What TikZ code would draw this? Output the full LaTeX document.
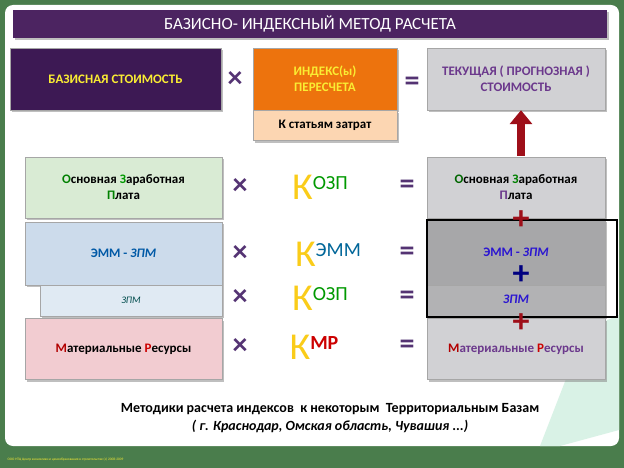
\documentclass[tikz,border=0pt]{standalone}
\usepackage{fontspec}
\setmainfont{Carlito}
\usetikzlibrary{positioning,shadows,arrows.meta}
\definecolor{bggreen}{rgb}{0.29,0.49,0.30}
\definecolor{darkpurple}{rgb}{0.24,0.10,0.33}
\definecolor{titlepurple}{rgb}{0.30,0.14,0.38}
\definecolor{orangebox}{rgb}{0.93,0.45,0.05}
\definecolor{lightorange}{rgb}{0.99,0.84,0.70}
\definecolor{yellowtxt}{rgb}{0.98,0.93,0.20}
\definecolor{violettxt}{rgb}{0.42,0.22,0.55}
\definecolor{signpurple}{rgb}{0.33,0.20,0.45}
\definecolor{greenbox}{rgb}{0.85,0.92,0.83}
\definecolor{bluebox}{rgb}{0.80,0.86,0.92}
\definecolor{pinkbox}{rgb}{0.95,0.80,0.82}
\definecolor{graybox}{rgb}{0.82,0.82,0.83}
\definecolor{darkred}{rgb}{0.62,0.06,0.10}
\definecolor{kyellow}{rgb}{0.98,0.80,0.10}
\begin{document}
\begin{tikzpicture}[x=1pt,y=-1pt,
  boxstyle/.style={draw=gray!70,drop shadow,minimum height=#1,inner sep=2pt,align=center,font=\bfseries\fontsize{13}{16}\selectfont},
  rowbox/.style={boxstyle=61pt,minimum width=197pt},
  sign/.style={font=\bfseries\fontsize{30}{30}\selectfont,text=signpurple},
  kfactor/.style={font=\fontsize{38}{38}\selectfont,text=kyellow},
  plussign/.style={font=\bfseries\fontsize{34}{34}\selectfont,inner sep=0pt}]
\useasboundingbox (0,0) rectangle (624,468);
% background
\fill[bggreen] (0,0) rectangle (624,468);
\fill[white,rounded corners=8pt] (5,5) rectangle (619,446);
\fill[green!30!teal!15] (585,330)--(619,315)--(619,430)--(560,446)--(540,446)--cycle;
% title
\node[fill=titlepurple,drop shadow,minimum width=594pt,minimum height=28pt,text=white,font=\fontsize{17}{17}\selectfont] (title) at (310,24) {БАЗИСНО- ИНДЕКСНЫЙ МЕТОД РАСЧЕТА};
% top formula
\node[boxstyle=62pt,fill=darkpurple,minimum width=211pt,text=yellowtxt] (base) at (115.5,79) {БАЗИСНАЯ СТОИМОСТЬ};
\node[boxstyle=62pt,fill=orangebox,minimum width=144pt,text=yellowtxt] (index) at (325,79) {ИНДЕКС(ы)\\ПЕРЕСЧЕТА};
\node[boxstyle=30pt,fill=lightorange,minimum width=144pt,below=0pt of index] (articles) {К статьям затрат};
\node[boxstyle=62pt,fill=graybox,minimum width=178pt,text=violettxt] (current) at (516,79) {ТЕКУЩАЯ ( ПРОГНОЗНАЯ )\\СТОИМОСТЬ};
\node[sign] (x0) at (235,80) {×};
\node[sign] (e0) at (412,84) {=};
% left rows
\node[rowbox,fill=greenbox] (ozp) at (123.5,187.5) {\textcolor{green!50!black}{О}сновная \textcolor{green!60!black}{З}аработная\\\textcolor{green!50!black}{П}лата};
\node[rowbox,fill=bluebox,minimum height=63pt] (emm) at (123.5,253.5) {\textcolor{teal!70!blue}{ЭММ - \itshape ЗПМ}};
\node[boxstyle=31pt,fill=bluebox!60,minimum width=182pt,font=\itshape] (zpm) at (131,300.5) {\textcolor{teal!60!black}{ЗПМ}};
\node[rowbox,fill=pinkbox] (mr) at (123.5,349) {\textcolor{red!70!black}{М}атериальные \textcolor{red!80!black}{Р}есурсы};
% right rows
\node[rowbox,fill=graybox,minimum width=178pt] (ozpR) at (516,187.5) {\textcolor{green!40!black}{О}сновная \textcolor{green!50!black}{З}аработная\\\textcolor{violettxt}{П}лата};
\node[rowbox,fill=graybox!80!black,minimum width=178pt,minimum height=65pt] (emmR) at (516,252.5) {\textcolor{blue!60!violettxt}{ЭММ - \itshape ЗПМ}};
\node[boxstyle=32pt,fill=graybox!85!black,minimum width=178pt,font=\itshape] (zpmR) at (516,301) {};
\node[font=\bfseries\itshape\fontsize{13}{13}\selectfont,text=blue!60!violettxt,inner sep=1pt] (zpmRtext) at (516,299) {ЗПМ};
\node[rowbox,fill=graybox,minimum width=178pt] (mrR) at (516,349) {\textcolor{red!70!black}{М}\textcolor{violettxt}{атериальные} \textcolor{red!80!black}{Р}\textcolor{violettxt}{есурсы}};
\draw[line width=2.5pt] (427,220) rectangle (617,317);
% signs and factors
\foreach \name/\yy in {ozp/187,emm/254,zpm/298,mr/347}{
  \node[sign] (x-\name) at (240,\yy) {×};
  \node[sign] (e-\name) at (407,\yy) {=};
}
\node[kfactor] (k1) at (320,187) {К\raisebox{10pt}{\fontsize{20}{20}\selectfont\textcolor{green!60!black}{ОЗП}}};
\node[kfactor] (k2) at (328,254) {К\raisebox{10pt}{\fontsize{20}{20}\selectfont\textcolor{teal!80!blue}{ЭММ}}};
\node[kfactor] (k3) at (320,298) {К\raisebox{10pt}{\fontsize{20}{20}\selectfont\textcolor{green!60!black}{ОЗП}}};
\node[kfactor] (k4) at (314,347) {К\raisebox{10pt}{\fontsize{20}{20}\selectfont\bfseries\textcolor{red!80!black}{МР}}};
% plus signs and arrow
\node[plussign,text=darkred] (p1) at (521,220) {+};
\node[plussign,text=blue!50!black] (p2) at (521,275) {+};
\node[plussign,text=darkred] (p3) at (521,323) {+};
\draw[-{Triangle[width=22pt,length=14pt]},line width=8pt,darkred] (ozpR.north) ++(5,-1) coordinate (arrfoot) -- (current.south -| arrfoot);
% bottom text
\node[font=\bfseries\fontsize{14}{18}\selectfont,align=center] (note) at (330,418) {Методики расчета индексов\ \ к некоторым\ \ Территориальным Базам\\\itshape ( г. Краснодар, Омская область, Чувашия ...)};
\node[font=\fontsize{3.5}{4}\selectfont,text=yellowtxt,anchor=west] (footer) at (4,460) {ООО НТЦ Центр экономики и ценообразования в строительстве (с) 2008-2009};
\end{tikzpicture}
\end{document}
